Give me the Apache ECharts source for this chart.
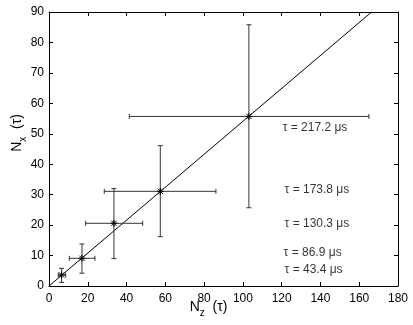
<!DOCTYPE html>
<html>
<head>
<meta charset="utf-8">
<script src="https://cdn.jsdelivr.net/npm/echarts@6/dist/echarts.min.js"></script>
<style>
  html, body { margin: 0; padding: 0; background: #fff; }
  #chart { width: 413px; height: 325px; }
</style>
</head>
<body>
<div id="chart"></div>
<script>
// point centres N_z(tau), N_x(tau)
const nz = [6.5, 17, 33.5, 57.4, 103.1];
const nx = [3.6, 9.1, 20.6, 31.1, 55.7];
// error bar ends
const nzLo = [4.8, 10.5, 18.9, 28.5, 41.4];
const nzHi = [8.6, 23.7, 48.3, 86.1, 165];
const nxLo = [1.2, 4.2, 9, 16.2, 25.7];
const nxHi = [5.8, 13.8, 32, 46.1, 85.8];
// reference line N_x = k * N_z
const fitLine = [[0, 0], [166.4, 90]];
// tau annotations
const tauText = ["τ = 43.4 μs", "τ = 86.9 μs", "τ = 130.3 μs", "τ = 173.8 μs", "τ = 217.2 μs"];
const tauX = [121.5, 121, 121.5, 121.5, 120.5];
const tauY = [5.3, 11.1, 20.6, 31.5, 52];

const font = "Liberation Sans, Arial, Helvetica, sans-serif";
const ink = "#000";

let myChart = echarts.init(document.getElementById("chart"));

const errData = nz.map((v, i) => [v, nx[i], nzLo[i], nzHi[i], nxLo[i], nxHi[i]]);

function renderErr(params, api) {
  const c = api.coord([api.value(0), api.value(1)]);
  const xl = api.coord([api.value(2), api.value(1)]);
  const xh = api.coord([api.value(3), api.value(1)]);
  const yl = api.coord([api.value(0), api.value(4)]);
  const yh = api.coord([api.value(0), api.value(5)]);
  const cap = 2.5;
  const st = { stroke: "#333", lineWidth: 1 };
  const seg = (x1, y1, x2, y2, s) => ({
    type: "line",
    shape: { x1: x1, y1: y1, x2: x2, y2: y2 },
    style: s || st,
  });
  const m = 3.5;
  const d = 2.6;
  const ms = { stroke: "#000", lineWidth: 1 };
  return {
    type: "group",
    children: [
      seg(xl[0], xl[1], xh[0], xh[1]),
      seg(xl[0], xl[1] - cap, xl[0], xl[1] + cap),
      seg(xh[0], xh[1] - cap, xh[0], xh[1] + cap),
      seg(yl[0], yl[1], yh[0], yh[1]),
      seg(yl[0] - cap, yl[1], yl[0] + cap, yl[1]),
      seg(yh[0] - cap, yh[1], yh[0] + cap, yh[1]),
      // asterisk marker
      seg(c[0] - m, c[1], c[0] + m, c[1], ms),
      seg(c[0], c[1] - m, c[0], c[1] + m, ms),
      seg(c[0] - d, c[1] - d, c[0] + d, c[1] + d, ms),
      seg(c[0] - d, c[1] + d, c[0] + d, c[1] - d, ms),
    ],
  };
}

const axisCommon = {
  min: 0,
  axisLine: { show: true, onZero: false, lineStyle: { color: ink, width: 1 } },
  axisTick: { show: true, inside: true, length: 4, lineStyle: { color: ink } },
  splitLine: { show: false },
};

const nameRich = {
  n: { fontSize: 14, fontFamily: font, color: ink },
  s: { fontSize: 10, fontFamily: font, color: ink, padding: [11, 0, 0, 0] },
};

let option = {
  animation: false,
  backgroundColor: "#fff",
  grid: { left: 49, right: 15, top: 12, bottom: 39, containLabel: false, outerBoundsMode: "none" },
  xAxis: [
    Object.assign({}, axisCommon, {
      type: "value",
      max: 180,
      interval: 20,
      position: "bottom",
      axisLabel: { color: ink, fontFamily: font, fontSize: 12, margin: 7 },
      name: "{n|N}{s|z}{n|  (τ)}",
      nameLocation: "middle",
      nameGap: 11,
      nameMoveOverlap: false,
      nameTextStyle: { color: ink, fontFamily: font, padding: [0, 30, 0, 0], rich: nameRich },
    }),
    Object.assign({}, axisCommon, {
      type: "value",
      max: 180,
      interval: 20,
      position: "top",
      axisLabel: { show: false },
    }),
  ],
  yAxis: [
    Object.assign({}, axisCommon, {
      type: "value",
      max: 90,
      interval: 10,
      position: "left",
      axisLabel: { color: ink, fontFamily: font, fontSize: 12, margin: 5 },
      name: "{n|N}{s|x}{n|  (τ)}",
      nameLocation: "middle",
      nameRotate: 90,
      nameGap: 21,
      nameMoveOverlap: false,
      nameTextStyle: { color: ink, fontFamily: font, padding: [0, 0, 0, 32], rich: nameRich },
    }),
    Object.assign({}, axisCommon, {
      type: "value",
      max: 90,
      interval: 10,
      position: "right",
      axisLabel: { show: false },
    }),
  ],
  series: [
    {
      type: "line",
      data: fitLine,
      symbol: "none",
      lineStyle: { color: ink, width: 1 },
      silent: true,
      z: 2,
    },
    {
      type: "custom",
      data: errData,
      renderItem: renderErr,
      encode: { x: 0, y: 1 },
      z: 3,
    },
    {
      type: "scatter",
      data: tauX.map((v, i) => [v, tauY[i]]),
      symbolSize: 0,
      label: {
        show: true,
        position: "right",
        distance: 0,
        color: ink,
        fontFamily: font,
        fontSize: 12,
        formatter: (p) => tauText[p.dataIndex],
      },
      z: 4,
    },
  ],
};
myChart.setOption(option);
</script>
</body>
</html>
